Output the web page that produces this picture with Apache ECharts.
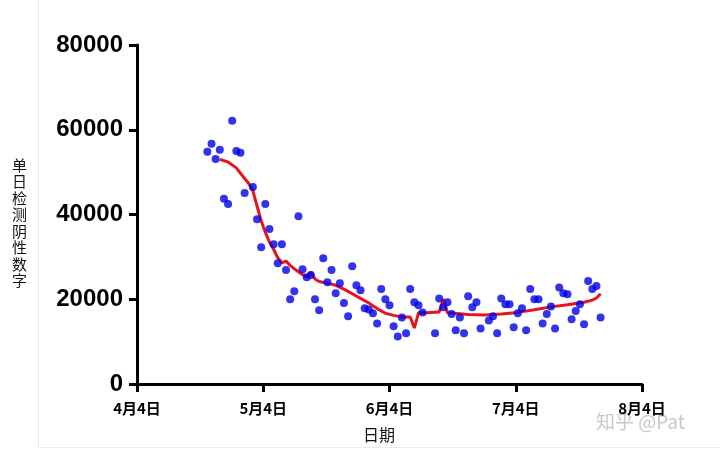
<!DOCTYPE html>
<html>
<head>
<meta charset="utf-8">
<script src="https://cdn.jsdelivr.net/npm/echarts@6/dist/echarts.min.js"></script>
<style>
html,body{margin:0;padding:0;background:#fff;}
#chart{width:720px;height:456px;}
</style>
</head>
<body>
<div id="chart"></div>
<script>
// ---- data ----
const xTickLabels = ['4月4日', '5月4日', '6月4日', '7月4日', '8月4日'];
const yTicks = [0, 20000, 40000, 60000, 80000];

// daily negative test counts (blue dots)
const dotDates = [
  '04-21','04-22','04-23','04-24','04-25','04-26','04-27','04-28','04-29','04-30',
  '05-02','05-03','05-04','05-05','05-06','05-07','05-08','05-09','05-10','05-11',
  '05-12','05-13','05-14','05-15','05-16','05-17','05-18','05-19','05-20','05-21',
  '05-22','05-23','05-24','05-25','05-26','05-27','05-28','05-29','05-30','05-31',
  '06-01','06-02','06-03','06-04','06-05','06-06','06-07','06-08','06-09','06-10',
  '06-11','06-12','06-15','06-16','06-17','06-18','06-19','06-20','06-21','06-22',
  '06-23','06-24','06-25','06-26','06-28','06-29','06-30','07-01','07-02','07-03',
  '07-04','07-05','07-06','07-07','07-08','07-09','07-10','07-11','07-12','07-13',
  '07-14','07-15','07-16','07-17','07-18','07-19','07-20','07-21','07-22','07-23',
  '07-24','07-25'
];
const dotValues = [
  54800,56700,53100,55300,43700,42500,62100,55000,54600,45100,
  46500,38900,32300,42500,36600,33000,28500,33000,26900,20000,
  21900,39600,27100,25200,25700,20000,17400,29700,24000,26900,
  21400,23800,19100,16000,27800,23300,22100,17900,17600,16700,
  14300,22400,20000,18600,13600,11200,15700,12000,22400,19300,
  18600,16900,12000,20200,18100,19300,16500,12700,15700,12000,
  20700,18100,19300,13100,15000,16000,12000,20200,18800,18800,
  13400,16700,17900,12700,22400,20000,20000,14300,16500,18300,
  13100,22800,21400,21200,15300,17200,18800,14100,24300,22400,
  23100,15700
];

// moving average (red line)
const avgDates = [
  '04-24','04-26','04-28','04-30','05-01','05-02','05-03','05-04','05-05','05-06',
  '05-07','05-08','05-09','05-10','05-11','05-12','05-14','05-15','05-16','05-17',
  '05-18','05-20','05-22','05-24','05-26','05-28','05-30','06-01','06-03','06-05',
  '06-07','06-09','06-10','06-11','06-13','06-16','06-17','06-18','06-21','06-23',
  '06-27','07-01','07-05','07-09','07-13','07-17','07-21','07-23','07-24','07-25'
];
const avgValues = [
  53000,52400,51000,48500,47300,45600,42000,38500,35800,33500,
  31800,29800,28600,29000,28000,27200,25800,25300,26400,24800,
  24200,23800,23300,22400,21300,20200,19100,17800,16700,16200,
  15800,15800,13200,16800,16800,17000,20000,16800,16600,16400,
  16300,16500,16900,17500,18200,18700,19300,19800,20300,21300
];

// ---- helpers ----
const YEAR = 2020;
const START = Date.UTC(YEAR, 3, 4);
function dayOf(s) {
  const p = s.split('-').map(Number);
  return (Date.UTC(YEAR, p[0] - 1, p[1]) - START) / 86400000;
}
const MONTH_STEP = 30.5;

const dots = dotDates.map((d, i) => [dayOf(d), dotValues[i]]);
const avg = avgDates.map((d, i) => [dayOf(d), avgValues[i]]);

const chart = echarts.init(document.getElementById('chart'), null, {renderer: 'canvas'});
const axisLine = {show: true, lineStyle: {color: '#000', width: 3}};
const axisTick = {show: true, length: 8, lineStyle: {color: '#000', width: 3}};

chart.setOption({
  backgroundColor: '#ffffff',
  animation: false,
  grid: {left: 137, right: 78, top: 45, bottom: 72, containLabel: false},
  xAxis: {
    type: 'value',
    min: 0,
    max: MONTH_STEP * (xTickLabels.length - 1),
    interval: MONTH_STEP,
    axisLine: axisLine,
    axisTick: axisTick,
    splitLine: {show: false},
    axisLabel: {
      margin: 17,
      color: '#000',
      fontSize: 15,
      fontWeight: 'bold',
      fontFamily: '"Noto Sans CJK SC", sans-serif',
      formatter: v => xTickLabels[Math.round(v / MONTH_STEP)] || ''
    }
  },
  yAxis: {
    type: 'value',
    min: yTicks[0],
    max: yTicks[yTicks.length - 1],
    interval: yTicks[1] - yTicks[0],
    axisLine: axisLine,
    axisTick: axisTick,
    splitLine: {show: false},
    axisLabel: {
      margin: 14,
      color: '#000',
      fontSize: 24,
      fontWeight: 'bold',
      fontFamily: '"Liberation Sans", Arial, sans-serif',
      formatter: v => String(v)
    }
  },
  graphic: [
    {type: 'line', shape: {x1: 38.5, y1: 0, x2: 38.5, y2: 447}, style: {stroke: '#ececec', lineWidth: 1}, silent: true},
    {type: 'line', shape: {x1: 38, y1: 447.5, x2: 720, y2: 447.5}, style: {stroke: '#ececec', lineWidth: 1}, silent: true},
    {
      type: 'text', left: 12, top: 157,
      style: {
        text: '单\n日\n检\n测\n阴\n性\n数\n字',
        fontSize: 15, lineHeight: 16.5, fill: '#111',
        fontFamily: '"Noto Sans CJK SC", sans-serif'
      }
    },
    {
      type: 'text', left: 363, top: 427,
      style: {text: '日期', fontSize: 16, fill: '#111', fontFamily: '"Noto Sans CJK SC", sans-serif'}
    },
    {
      type: 'text', left: 596, top: 412,
      style: {text: '知乎 @Pat', fontSize: 19, fill: '#c9c9c9', fontFamily: '"Noto Sans CJK SC", sans-serif'}
    }
  ],
  series: [
    {
      type: 'line',
      data: avg,
      showSymbol: false,
      symbol: 'none',
      lineStyle: {color: '#e8141c', width: 3},
      z: 2
    },
    {
      type: 'scatter',
      data: dots,
      symbol: 'circle',
      symbolSize: 8,
      itemStyle: {color: '#0000e6'},
      z: 3
    }
  ]
});
</script>
</body>
</html>
